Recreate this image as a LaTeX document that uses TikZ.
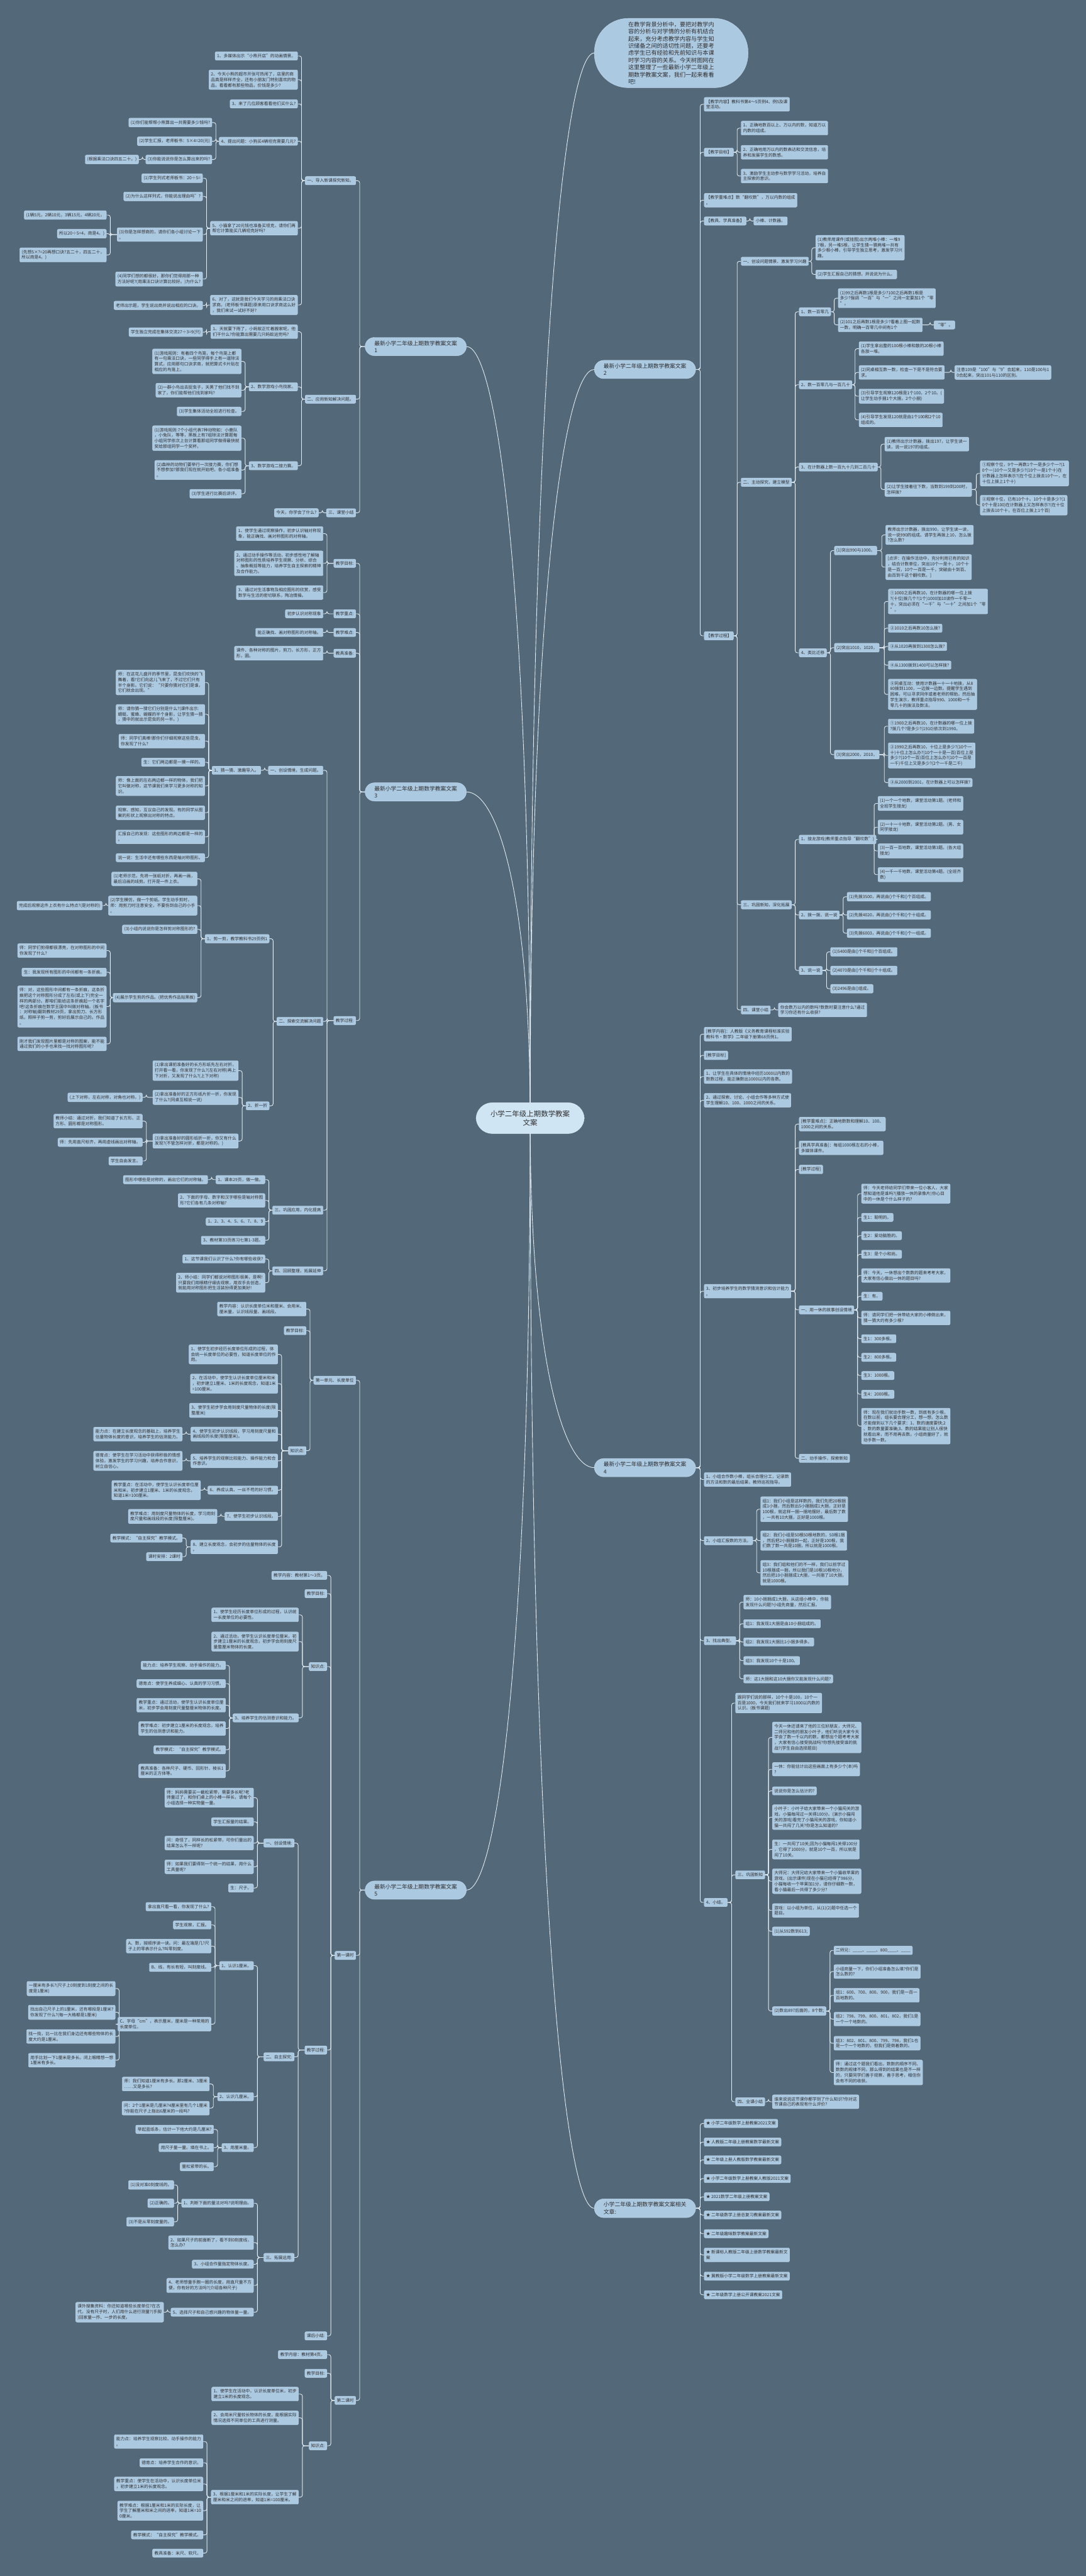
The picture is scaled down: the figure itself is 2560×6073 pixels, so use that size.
\documentclass[tikz,border=0pt]{standalone}
\usepackage{fontspec}
\setmainfont{Noto Sans CJK SC}
\usetikzlibrary{calc}
\definecolor{bgc}{HTML}{53697A}
\definecolor{ndf}{HTML}{ACC9E2}
\definecolor{ndb}{HTML}{C4DBEE}
\definecolor{rootf}{HTML}{CFE5F4}
\definecolor{rootb}{HTML}{E2F0FA}
\definecolor{txt}{HTML}{2E2E2E}
\definecolor{lnc}{HTML}{E4EDF3}
\pgfdeclarelayer{back}
\pgfdeclarelayer{lines}
\pgfsetlayers{back,lines,main}
\tikzset{
 nd/.style={draw=ndb, fill=ndf, rounded corners=3pt, line width=0.6pt, inner xsep=4.5pt, inner ysep=5.2pt, align=left, text=txt, font=\fontsize{10}{13}\selectfont},
 ln/.style={nd, anchor=east},
 rn/.style={nd, anchor=west},
 big/.style={draw=ndb, fill=ndf, rounded corners=22pt, line width=0.6pt, inner xsep=22pt, inner ysep=7.5pt, align=left, text=txt, font=\fontsize{13}{17}\selectfont},
 intro/.style={big, rounded corners=80pt, inner xsep=80pt, inner ysep=8pt, font=\fontsize{13.5}{16.9}\selectfont},
 rootn/.style={draw=rootb, fill=rootf, rounded corners=38pt, line width=0.6pt, inner xsep=34pt, inner ysep=18pt, align=center, text=txt, font=\fontsize{17}{21}\selectfont},
 conn/.style={draw=lnc, line width=1.3pt, rounded corners=5pt},
 curv/.style={draw=lnc, line width=1.3pt},
}
\newcommand\linkR[2]{\foreach \kid in {#2}{\draw[conn] (#1.east) -| ([xshift=-9pt]\kid.west) -- (\kid.west);}}
\newcommand\linkL[2]{\foreach \kid in {#2}{\draw[conn] (#1.west) -| ([xshift=9pt]\kid.east) -- (\kid.east);}}
\begin{document}
\begin{tikzpicture}[x=1pt,y=-1pt]
\begin{pgfonlayer}{back}
\fill[bgc] (0,0) rectangle (2560,6073);
\end{pgfonlayer}
\useasboundingbox (0,0) rectangle (2560,6073);

% root and level 1
\node[rootn] (root) at (1250,2636) {小学二年级上期数学教案\\文案};
\node[big, anchor=east] (L1) at (1100,817) {最新小学二年级上期数学教案文案\\1};
\node[big, anchor=east] (L3) at (1100,1867) {最新小学二年级上期数学教案文案\\3};
\node[big, anchor=east] (L5) at (1100,4456) {最新小学二年级上期数学教案文案\\5};
\node[intro, anchor=west] (IN) at (1401,125) {在教学背景分析中，要把对教学内\\容的分析与对学情的分析有机结合\\起来，充分考虑教学内容与学生知\\识储备之间的适切性问题，还要考\\虑学生已有经验和先前知识与本课\\时学习内容的关系。今天树图网在\\这里整理了一些最新小学二年级上\\期数学教案文案，我们一起来看看\\吧!};
\node[big, anchor=west] (R2) at (1401,871) {最新小学二年级上期数学教案文案\\2};
\node[big, anchor=west] (R4) at (1401,3460) {最新小学二年级上期数学教案文案\\4};
\node[big, anchor=west] (R6) at (1401,5206) {小学二年级上期数学教案文案相关\\文章:};

% ===== L1 =====
\node[ln] (a1) at (839,426) {一、导入新课探究新知。};
\node[ln] (a2) at (839,941) {二、应用新知解决问题。};
\node[ln] (a3) at (839,1209) {三、课堂小结};
\node[ln] (a11) at (702,132) {1、多媒体出示“小熊开店”的动画情景。};
\node[ln] (a12) at (702,188) {2、今天小熊的超市开张可热闹了，店里的商\\品真是样样齐全，还有小朋友门特别喜欢的物\\品，看看都有那些物品，价钱是多少?};
\node[ln] (a13) at (702,245) {3、来了几位顾客看看他们买什么?};
\node[ln] (a14) at (702,333) {4、提出问题：小狗买4辆坦克需要几元?};
\node[ln] (a15) at (702,538) {5、小猫拿了20元钱也准备买坦克，请你们再\\帮它计算能买几辆坦克好吗?};
\node[ln] (a16) at (702,719) {6、对了，这就是我们今天学习的用乘法口诀\\求商。(老师板书课题)原来用口诀求商这么好\\，我们来试一试好不好?};
\node[ln] (a141) at (500,289) {(1)你们能帮帮小熊算出一共需要多少钱吗?};
\node[ln] (a142) at (500,333) {(2)学生汇报，老师板书：5×4=20(元)};
\node[ln] (a143) at (500,376) {(3)你能说说你是怎么算出来的吗?};
\node[ln] (a1431) at (327,376) {(根据乘法口诀四五二十。)};
\node[ln] (a151) at (478,420) {(1)学生列式老师板书：20÷5=};
\node[ln] (a152) at (478,463) {(2)为什么这样列式，你能说出理由吗”?};
\node[ln] (a153) at (478,553) {(3)你是怎样想商的，请你们各小组讨论一下\\。};
\node[ln] (a154) at (478,658) {(4)同学们想的都很好，那你们觉得用那一种\\方法好呢?(用乘法口诀计算比较好。)为什么?};
\node[ln] (a1531) at (251,507) {(1辆5元，2辆10元，3辆15元，4辆20元，};
\node[ln] (a1532) at (251,551) {所以20÷5=4，商是4。)};
\node[ln] (a1533) at (251,601) {(先想5×?=20再想口诀?五二十，四五二十，\\所以商是4。)};
\node[ln] (a161) at (478,720) {老师出示题，学生说出商并说出相应的口诀。};
\node[ln] (a21) at (702,782) {1、天就要下雨了，小蚂蚁正忙着搬家呢，他\\们干什么?你能算出需要几只蚂蚁运完吗?};
\node[ln] (a22) at (702,912) {2、数学游戏小鸟找家。};
\node[ln] (a23) at (702,1098) {3、数学游戏二接力赛。};
\node[ln] (a211) at (478,783) {学生独立完成在集体交流27÷3=9(只)};
\node[ln] (a221) at (569,852) {(1)游戏规则：有着四个鸟笼，每个鸟笼上都\\有一句乘法口诀，一些同学得手上有一道除法\\算式，应用那句口诀求商，就把算式卡片贴在\\相应的鸟笼上。};
\node[ln] (a222) at (569,920) {(2)一群小鸟出去捉虫子，天黑了他们找不到\\家了，你们能帮他们找到家吗?};
\node[ln] (a223) at (569,970) {(3)学生集体活动全班进行检查。};
\node[ln] (a231) at (569,1033) {(1)游戏规则:7个小组代表7种动物如：小鹿队\\，小兔队，等等，黑板上有7组除法计算题每\\小组同学依次上台计算看那组同学做得最快就\\奖给那组同学一个奖杯。};
\node[ln] (a232) at (569,1108) {(2)森林的动物们要举行一次接力赛，你们想\\不想参加?那我们现在就开始吧，各小组准备\\。};
\node[ln] (a233) at (569,1164) {(3)学生进行比赛后讲评。};
\node[ln] (a31) at (751,1209) {今天，你学会了什么?};

% ===== L3 =====
\node[ln] (b1) at (839,1328) {教学目标:};
\node[ln] (b2) at (839,1447) {教学重点:};
\node[ln] (b3) at (839,1491) {教学难点:};
\node[ln] (b4) at (839,1540) {教具准备:};
\node[ln] (b5) at (839,2406) {教学过程:};
\node[ln] (b11) at (762,1258) {1、使学生通过观察操作，初步认识轴对称现\\象，能正确找、画对称图形的对称轴。};
\node[ln] (b12) at (762,1328) {2、通过动手操作等活动，初步感性地了解轴\\对称图形的性质培养学生观察、分析、综合\\、抽象概括等能力，培养学生自主探索的精神\\及合作能力。};
\node[ln] (b13) at (762,1397) {3、通过对生活事物及相应图形的欣赏，感受\\数学与生活的密切联系，陶冶情操。};
\node[ln] (b21) at (762,1447) {初步认识对称现象};
\node[ln] (b31) at (762,1491) {能正确找、画对称图形的对称轴。};
\node[ln] (b41) at (762,1540) {课件、各种对称的图片，剪刀，长方形，正方\\形，圆。};
\node[ln] (b51) at (762,1816) {一、创设情境，生成问题。};
\node[ln] (b52) at (762,2408) {二、探索交流解决问题};
\node[ln] (b53) at (762,2853) {三、巩固应用，内化提高};
\node[ln] (b54) at (762,2996) {四、回顾整理，拓展延伸};
\node[ln] (b511) at (615,1816) {1、猜一猜、激趣导入。};
\node[ln] (b5111) at (483,1609) {师：在这花儿盛开的季节里，昆虫们欢快的飞\\舞着，看!它们向这儿飞来了，不过它们只有\\半个身影。它们说：“只要你猜对它们是谁，\\它们就会出现。”};
\node[ln] (b5112) at (483,1684) {师：请你猜一猜它们分别是什么?(课件出示:\\蜻蜓、蜜蜂、蝴蝶的半个身影，让学生猜一猜\\，猜中的就出示昆虫的另一半。)};
\node[ln] (b5113) at (483,1747) {师：同学们真棒!那你们仔细观察这些昆虫，\\你发现了什么?};
\node[ln] (b5114) at (483,1797) {生：它们两边都是一摸一样的。};
\node[ln] (b5115) at (483,1853) {师：像上面的左右两边都一样的物体，我们把\\它叫做对称，这节课我们来学习更多对称的知\\识。};
\node[ln] (b5116) at (483,1916) {观察、感知，互议自己的发现。有的同学从图\\案的形状上观察出对称的特点。};
\node[ln] (b5117) at (483,1973) {汇报自己的发现：这些图形的两边都是一样的\\。};
\node[ln] (b5118) at (483,2022) {说一说：生活中还有哪些东西是轴对称图形。};
\node[ln] (b521) at (635,2213) {1、剪一剪，教学教科书29页例1};
\node[ln] (b522) at (635,2607) {2、折一折};
\node[ln] (b5211) at (465,2072) {(1)老师示范，先将一张纸对折，再画一画，\\最后沿画的线剪。打开是一件上衣。};
\node[ln] (b5212) at (465,2135) {(2)学生模仿，做一个剪纸。学生动手剪时，\\师：用剪刀时注意安全，不要伤到自己的小手\\。};
\node[ln] (b5213) at (465,2191) {(3)小组内说说你是怎样剪对称图形的?};
\node[ln] (b5214) at (465,2352) {(4)展示学生剪的作品。(把优秀作品贴黑板)};
\node[ln] (b52121) at (241,2135) {完成后观察这件上衣有什么特点?(是对称的)};
\node[ln] (b52141) at (251,2241) {师：同学们剪得都很漂亮，在对称图形的中间\\你发现了什么?};
\node[ln] (b52142) at (251,2292) {生：我发现所有图形的中间都有一条折痕。};
\node[ln] (b52143) at (251,2373) {师：对，这些图形中间都有一条折痕，这条折\\痕把这个对称图形分成了左右(或上下)完全一\\样的两部分。那咱们能给这条折痕起一个名字\\吧!这条折痕在数学王国中叫做对称轴。(板书\\：对称轴)翻到教材29页，拿出剪刀、长方形\\纸，照样子剪一剪，剪好后展示自己的。作品\\。};
\node[ln] (b52144) at (251,2461) {刚才我们发现图片里都是对称的图案，能不能\\通过我们的小手也来找一找对称图形呢?};
\node[ln] (b5221) at (562,2524) {(1)拿出课前准备好的长方形纸先左右对折，\\打开看一看，你发现了什么?(左右对称)再上\\下对折，又发现了什么?(上下对称)};
\node[ln] (b5222) at (562,2587) {(2)拿出准备好的正方形纸片折一折，你发现\\了什么?(同桌互相说一说)};
\node[ln] (b5223) at (562,2690) {(3)拿出准备好的圆形纸折一折，你又有什么\\发现?(不管怎样对折，都是对称的。)};
\node[ln] (b52221) at (336,2587) {(上下对称，左右对称，对角也对称。)};
\node[ln] (b52231) at (336,2643) {教师小结：通过对折，我们知道了长方形、正\\方形、圆形都是对称图形。};
\node[ln] (b52232) at (336,2693) {师：先用直尺标齐，再用虚线画出对称轴。};
\node[ln] (b52233) at (336,2737) {学生自由发言。};
\node[ln] (b531) at (625,2781) {1、课本29页，做一做。};
\node[ln] (b532) at (625,2830) {2、下面的字母、数字和汉字哪些是轴对称图\\形?它们各有几条对称轴?};
\node[ln] (b533) at (625,2880) {1、2、3、4、5、6、7、8、9};
\node[ln] (b534) at (625,2924) {3、教材第33页练习七第1-3题。};
\node[ln] (b5311) at (490,2781) {图形中哪些是对称的，画出它们的对称轴。};
\node[ln] (b541) at (625,2968) {1、这节课我们认识了什么?你有哪些收获?};
\node[ln] (b542) at (625,3024) {2、师小结：同学们都说对称图形很美，是啊!\\只要我们用眼睛仔细去观察，用双手去创造，\\就能用对称图形把生活装扮得更加美好!};

% ===== L5 =====
\node[ln] (c1) at (839,3254) {第一单元、长度单位};
\node[ln] (c2) at (839,4610) {第一课时};
\node[ln] (c3) at (839,5659) {第二课时};
\node[ln] (c11) at (722,3086) {教学内容：认识长度单位米和厘米、会用米、\\厘米量，认识线段量、画线段。};
\node[ln] (c12) at (722,3137) {教学目标:};
\node[ln] (c13) at (722,3420) {知识点:};
\node[ln] (c131) at (655,3193) {1、使学生初步经历长度单位形成的过程，体\\会统一长度单位的必要性，知道长度单位的作\\用。};
\node[ln] (c132) at (655,3262) {2、在活动中，使学生认识长度单位厘米和米\\，初步建立1厘米、1米的长度观念，知道1米\\=100厘米。};
\node[ln] (c133) at (655,3325) {3、使学生初步学会用刻度尺量物体的长度(限\\整厘米)};
\node[ln] (c134) at (655,3381) {4、使学生初步认识线段，学习用刻度尺量和\\画线段的长度(限整厘米)。};
\node[ln] (c135) at (655,3444) {5、培养学生的观察比较能力、操作能力和合\\作意识。};
\node[ln] (c136) at (655,3513) {6、养成认真、一丝不苟的好习惯。};
\node[ln] (c137) at (655,3575) {7、使学生初步认识线段。};
\node[ln] (c138) at (655,3647) {8、建立长度观念，会初步的估量物体的长度\\。};
\node[ln] (c1341) at (430,3381) {能力点：在建立长度观念的基础上，培养学生\\估量物体长度的意识，培养学生的估测能力。};
\node[ln] (c1351) at (430,3444) {德育点：使学生在学习活动中获得积极的情感\\体验，激发学生的学习兴趣，培养合作意识，\\树立自信心。};
\node[ln] (c1361) at (473,3513) {教学重点：在活动中，使学生认识长度单位厘\\米和米，初步建立1厘米、1米的长度观念，\\知道1米=100厘米。};
\node[ln] (c1371) at (512,3575) {教学难点：用刻度尺量物体的长度，学习用刻\\度尺量和画线段的长度(限整厘米)。};
\node[ln] (c1381) at (430,3626) {教学模式：“自主探究”教学模式。};
\node[ln] (c1382) at (430,3670) {课时安排：2课时};
\node[ln] (c21) at (771,3714) {教学内容：教材第1～3页。};
\node[ln] (c22) at (771,3757) {教学目标:};
\node[ln] (c23) at (771,3929) {知识点:};
\node[ln] (c24) at (771,4833) {教学过程:};
\node[ln] (c25) at (771,5507) {课后小结:};
\node[ln] (c231) at (704,3807) {1、使学生经历长度单位形成的过程，认识统\\一长度单位的必要性。};
\node[ln] (c232) at (704,3870) {2、通过活动，使学生认识长度单位厘米，初\\步建立1厘米的长度观念，初步学会用刻度尺\\量整厘米物体的长度。};
\node[ln] (c233) at (704,4050) {3、培养学生的估测意识和能力。};
\node[ln] (c2331) at (532,3926) {能力点：培养学生观察、动手操作的能力。};
\node[ln] (c2332) at (532,3969) {德育点：使学生养成细心、认真的学习习惯。};
\node[ln] (c2333) at (532,4020) {教学重点：通过活动，使学生认识长度单位厘\\米，初步学会用刻度尺量整厘米物体的长度。};
\node[ln] (c2334) at (532,4075) {教学难点：初步建立1厘米的长度观念，培养\\学生的估测意识和能力。};
\node[ln] (c2335) at (532,4125) {教学模式：“自主探究”教学模式。};
\node[ln] (c2336) at (532,4175) {教具准备：各种尺子、硬币、回形针、棱长1\\厘米的正方体等。};
\node[ln] (c241) at (694,4345) {一、创设情境:};
\node[ln] (c242) at (694,4849) {二、自主探究:};
\node[ln] (c243) at (694,5322) {三、拓展运用:};
\node[ln] (c2411) at (598,4238) {师：妈妈需要买一截松紧带，需要多长呢?老\\师量过了，和你们桌上的小棒一样长，请每个\\小组选择一种实物量一量。};
\node[ln] (c2412) at (598,4295) {学生汇报量的结果。};
\node[ln] (c2413) at (598,4345) {问：奇怪了，同样长的松紧带，可你们量出的\\结果怎么不一样呢?};
\node[ln] (c2414) at (598,4401) {师：如果我们要得到一个统一的结果，用什么\\工具量呢?};
\node[ln] (c2415) at (598,4451) {生：尺子。};
\node[ln] (c2421) at (598,4634) {1、认识1厘米。};
\node[ln] (c2422) at (598,4943) {2、认识几厘米。};
\node[ln] (c2423) at (598,5063) {3、用厘米量。};
\node[ln] (c24211) at (498,4495) {拿出直尺看一看，你发现了什么?};
\node[ln] (c24212) at (498,4538) {学生观察，汇报。};
\node[ln] (c24213) at (498,4588) {A、数，按顺序读一读。问：最左端是几?尺\\子上的零表示什么?叫零刻度。};
\node[ln] (c24214) at (498,4638) {B、线，有长有短，叫刻度线。};
\node[ln] (c24215) at (498,4772) {C、字母“cm”，表示厘米，厘米是一种常用的\\长度单位。};
\node[ln] (c242151) at (272,4688) {一厘米有多长?(尺子上0刻度到1刻度之间的长\\度是1厘米)};
\node[ln] (c242152) at (272,4744) {找出自己尺子上的1厘米，还有哪段是1厘米?\\你发现了什么?(每一大格都是1厘米)};
\node[ln] (c242153) at (272,4801) {找一找，比一比在我们身边还有哪些物体的长\\度大约是1厘米。};
\node[ln] (c242154) at (272,4857) {用手比划一下1厘米是多长。闭上眼睛想一想\\1厘米有多长。};
\node[ln] (c24221) at (494,4913) {师：我们知道1厘米有多长，那2厘米、3厘米\\……又是多长?};
\node[ln] (c24222) at (494,4970) {问：2个1厘米是几厘米?4厘米里有几个1厘米\\?你能在尺子上指出6厘米的一段吗?};
\node[ln] (c24231) at (504,5020) {举起蓝纸条，估计一下他大约是几厘米?};
\node[ln] (c24232) at (504,5063) {用尺子量一量。填在书上。};
\node[ln] (c24233) at (504,5108) {量松紧带的长。};
\node[ln] (c2431) at (598,5194) {1、判断下面的量法对吗?说明理由。};
\node[ln] (c2432) at (598,5287) {2、如果尺子的前面断了，看不到0刻度线，\\怎么办?};
\node[ln] (c2433) at (598,5338) {3、小组合作量指定物体长度。};
\node[ln] (c2434) at (598,5388) {4、老师想量手腕一圈的长度，用直尺量不方\\便，你有好的方法吗?(介绍各种尺子)};
\node[ln] (c2435) at (598,5451) {5、选择尺子和自己感兴趣的物体量一量。};
\node[ln] (c24311) at (410,5151) {(1)没对准0刻度线的。};
\node[ln] (c24312) at (410,5194) {(2)正确的。};
\node[ln] (c24313) at (410,5238) {(3)不是从零刻度量的。};
\node[ln] (c24351) at (386,5451) {课外搜集资料：你还知道哪些长度单位?在古\\代，没有尺子时，人们用什么进行测量?(手脚\\)回家量一拃、一步的长度。};
\node[ln] (c31) at (771,5551) {教学内容：教材第4页。};
\node[ln] (c32) at (771,5595) {教学目标:};
\node[ln] (c33) at (771,5766) {知识点:};
\node[ln] (c331) at (704,5644) {1、使学生在活动中，认识长度单位米，初步\\建立1米的长度观念。};
\node[ln] (c332) at (704,5700) {2、会用米尺量较长物体的长度，能根据实际\\情况选择不同单位的工具进行测量。};
\node[ln] (c333) at (704,5887) {3、根据1厘米和1米的实际长度，让学生了解\\厘米和米之间的进率，知道1米=100厘米。};
\node[ln] (c3331) at (479,5756) {能力点：培养学生观察比较、动手操作的能力\\。};
\node[ln] (c3332) at (479,5806) {德育点：培养学生合作的意识。};
\node[ln] (c3333) at (479,5856) {教学重点：使学生在活动中，认识长度单位米\\，初步建立1米的长度观念。};
\node[ln] (c3334) at (479,5919) {教学难点：根据1厘米和1米的实际长度，让\\学生了解厘米和米之间的进率，知道1米=10\\0厘米。};
\node[ln] (c3335) at (479,5976) {教学模式：“自主探究”教学模式。};
\node[ln] (c3336) at (479,6019) {教具准备：米尺、软尺。};

% ===== R2 =====
\node[rn] (d1) at (1660,246) {【教学内容】教科书第4～5页例4、例5及课\\堂活动。};
\node[rn] (d2) at (1660,359) {【教学目标】};
\node[rn] (d3) at (1660,472) {【教学重难点】数“翻坎数”，万以内数的组成\\。};
\node[rn] (d4) at (1660,521) {【教具、学具准备】};
\node[rn] (d5) at (1660,1499) {【教学过程】};
\node[rn] (d21) at (1747,302) {1、正确地数百以上、万以内的数，知道万以\\内数的组成。};
\node[rn] (d22) at (1747,359) {2、正确地用万以内的数表达和交流信息，培\\养和发展学生的数感。};
\node[rn] (d23) at (1747,415) {3、激励学生主动参与数学学习活动，培养自\\主探索的意识。};
\node[rn] (d41) at (1777,521) {小棒、计数器。};
\node[rn] (d51) at (1747,616) {一、创设问题情景、激发学习兴趣};
\node[rn] (d52) at (1747,1137) {二、主动探究，建立模型};
\node[rn] (d53) at (1747,2133) {三、巩固新知，深化拓展};
\node[rn] (d54) at (1747,2381) {四、课堂小结};
\node[rn] (d511) at (1923,584) {(1)教师用课件(或挂图)出示两堆小棒：一堆9\\7根，另一堆5根，让学生猜一猜两堆一共有\\多少根小棒，引导学生独立思考，激发学习兴\\趣。};
\node[rn] (d512) at (1923,647) {(2)学生汇报自己的猜想，并说说为什么。};
\node[rn] (d521) at (1884,735) {1、数一百零几};
\node[rn] (d522) at (1884,907) {2、数一百零几与一百几十};
\node[rn] (d523) at (1884,1101) {3、在计数器上数一百九十几到二百几十};
\node[rn] (d524) at (1884,1539) {4、类比迁移};
\node[rn] (d5211) at (1976,703) {(1)99之后再数1根是多少?100之后再数1根是\\多少?强调“一百”与“一”之间一定要加1个“零\\”。};
\node[rn] (d5212) at (1976,766) {(2)101之后再数1根是多少?看着上图一起数\\一数，明确一百零几中间有1个};
\node[rn] (d52121) at (2202,766) {“零”。};
\node[rn] (d5221) at (2025,822) {(1)学生拿出整的100根小棒和散的20根小棒\\各放一堆。};
\node[rn] (d5222) at (2025,878) {(2)同桌相互数一数，检查一下是不是符合要\\求。};
\node[rn] (d5223) at (2025,934) {(3)引导学生观察120根是1个100，2个10。(\\让学生动手捆1个大捆，2个小捆)};
\node[rn] (d5224) at (2025,990) {(4)引导学生发现120就是由1个100和2个10\\组成的。};
\node[rn] (d52221) at (2251,878) {注意109是“100”与“9”合起来，110是100与1\\0合起来，突出101与110的区别。};
\node[rn] (d5231) at (2086,1047) {(1)教师出示计数器，拨出197，让学生读一\\读，说一说197的组成。};
\node[rn] (d5232) at (2086,1154) {(2)让学生接着往下数，当数到199到200时，\\怎样拨?};
\node[rn] (d52321) at (2311,1116) {①观察个位，9个一再数1个一是多少个一?(1\\0个一)10个一又是多少?(10个一是1个十)在\\计数器上怎样表示?(在个位上拨去10个一，在\\十位上拨上1个十)};
\node[rn] (d52322) at (2311,1191) {②观察十位，已有10个十。10个十是多少?(1\\0个十是100)在计数器上又怎样表示?(在十位\\上拨去10个十，在百位上拨上1个百)};
\node[rn] (d5241) at (1967,1298) {(1)突出990与1000。};
\node[rn] (d5242) at (1967,1527) {(2)突出1010，1020，};
\node[rn] (d5243) at (1967,1779) {(3)突出2000，2010，};
\node[rn] (d52411) at (2088,1261) {教师出示计数器，拨出990，让学生读一读，\\说一说990的组成。请学生再拨上10，怎么拨\\?怎么数?};
\node[rn] (d52412) at (2088,1337) {[点评：在操作活动中，充分利用已有的知识\\，结合计数单位，突出10个一是十，10个十\\是一百，10个一百是一千，突破由十到百、\\由百到千这个翻坎数。]};
\node[rn] (d52421) at (2094,1418) {①1000之后再数10，在计数器的哪一位上拨\\?(十位)拨几个?(1个)1000加10读作一千零一\\十，突出必须在“一千”与“一十”之间加1个“零\\”。};
\node[rn] (d52422) at (2094,1481) {②1010之后再数10怎么拨?};
\node[rn] (d52423) at (2094,1524) {③从1020再拨到1300怎么拨?};
\node[rn] (d52424) at (2094,1568) {④从1300拨到1400可以怎样拨?};
\node[rn] (d52425) at (2094,1637) {⑤同桌互动：使用计数器一十一十地拨，从8\\80拨到1100，一边拨一边数。提醒学生遇到\\困难，可以寻求同伴或者老师的帮助。然后抽\\学生演示，教师重点指导990、1000和一千\\零几十的拨法及数法。};
\node[rn] (d52431) at (2094,1712) {①1900之后再数10，在计数器的哪一位上拨\\?拨几个?是多少?(1910)依次到1990。};
\node[rn] (d52432) at (2094,1781) {②1990之后再数10，十位上是多少?(10个一\\十)十位上怎么办?(10个一十是一百)百位上是\\多少?(10个一百)百位上怎么办?(10个一百是\\一千)千位上又是多少?(2个一千是二千)};
\node[rn] (d52433) at (2094,1845) {③从2000到2001，在计数器上可以怎样拨?};
\node[rn] (d531) at (1884,1979) {1、接龙游戏(教师重点指导“翻坎数”)};
\node[rn] (d532) at (1884,2157) {2、拨一拨、说一说};
\node[rn] (d533) at (1884,2288) {3、说一说};
\node[rn] (d5311) at (2070,1894) {(1)一个一个地数，课堂活动第1题。(老师和\\全班学生接龙)};
\node[rn] (d5312) at (2070,1950) {(2)一十一十地数，课堂活动第2题。(男、女\\同学接龙)};
\node[rn] (d5313) at (2070,2006) {(3)一百一百地数，课堂活动第3题。(各大组\\接龙)};
\node[rn] (d5314) at (2070,2062) {(4)一千一千地数，课堂活动第4题。(全班齐\\数)};
\node[rn] (d5321) at (1997,2114) {(1)先拨3500，再说由()个千和()个百组成。};
\node[rn] (d5322) at (1997,2157) {(2)先拨4020，再说由()个千和()个十组成。};
\node[rn] (d5323) at (1997,2200) {(3)先拨6003，再说由()个千和()个一组成。};
\node[rn] (d5331) at (1958,2244) {(1)5400是由()个千和()个百组成。};
\node[rn] (d5332) at (1958,2288) {(2)4070是由()个千和()个十组成。};
\node[rn] (d5333) at (1958,2331) {(3)2496是由()组成。};
\node[rn] (d541) at (1835,2381) {你会数万以内的数吗?数数时要注意什么?通过\\学习你还有什么收获?};

% ===== R4 =====
\node[rn] (e1) at (1660,2438) {[教学内容]：人教版《义务教育课程标准实验\\教科书·数学》二年级下册第68页例1。};
\node[rn] (e2) at (1660,2488) {[教学目标]};
\node[rn] (e3) at (1660,2538) {1、让学生在具体的情境中经历1000以内数的\\数数过程，能正确数出1000以内的各数。};
\node[rn] (e4) at (1660,2594) {2、通过探索、讨论、小组合作等多种方式使\\学生理解10、100、1000之间的关系。};
\node[rn] (e5) at (1660,3044) {3、初步培养学生的数学猜测意识和估计能力\\。};
\node[rn] (e6) at (1660,3488) {1、小组合作数小棒，组长合理分工，记录数\\的方法和数的最后结果，教师巡视指导。};
\node[rn] (e7) at (1660,3632) {2、小组汇报数的方法。};
\node[rn] (e8) at (1660,3868) {3、找出典型。};
\node[rn] (e9) at (1660,4485) {4、小结。};
\node[rn] (e51) at (1884,2650) {[教学重难点]：正确地数数和理解10、100、\\1000之间的关系。};
\node[rn] (e52) at (1884,2706) {[教具学具准备]：每组1000根左右的小棒，\\多媒体课件。};
\node[rn] (e53) at (1884,2757) {[教学过程]};
\node[rn] (e54) at (1884,3088) {一、用一休的故事创设情境};
\node[rn] (e55) at (1884,3438) {二、动手操作，探索新知};
\node[rn] (e541) at (2031,2814) {师：今天老师给同学们带来一位小客人，大家\\想知道他是谁吗?(播放一休的录像片)你心目\\中的一休是个什么样子的?};
\node[rn] (e542) at (2031,2870) {生1：聪明的。};
\node[rn] (e543) at (2031,2913) {生2：爱动脑筋的。};
\node[rn] (e544) at (2031,2957) {生3：是个小和尚。};
\node[rn] (e545) at (2031,3007) {师：今天，一休想出个数数的题来考考大家，\\大家有信心做出一休的题目吗?};
\node[rn] (e546) at (2031,3056) {生：有。};
\node[rn] (e547) at (2031,3107) {师：请同学们把一休带给大家的小棒倒出来，\\猜一猜大约有多少根?};
\node[rn] (e548) at (2031,3156) {生1：300多根。};
\node[rn] (e549) at (2031,3200) {生2：800多根。};
\node[rn] (e5410) at (2031,3243) {生3：1000根。};
\node[rn] (e5411) at (2031,3287) {生4：2000根。};
\node[rn] (e5412) at (2031,3362) {师：现在我们就动手数一数，到底有多少根，\\在数以前，组长要合理分工，想一想，怎么数\\才能做到以下几个要求：1、数的速度要快;2\\、数的数量要准确;3、数的结果能让别人很快\\就看出来，而不用再去数。小组商量好了，就\\动手数一数。};
\node[rn] (e71) at (1793,3558) {组1：我们小组是这样数的，我们先把20根捆\\成1小捆，然后数出5小捆捆成1大捆，正好是\\100根，就这样一捆一捆地摆好，最后数了数\\，一共有10大捆，正好是1000根。};
\node[rn] (e72) at (1793,3632) {组2：我们小组是50根50根地数的，50根1捆\\，然后把2小捆捆到一起，正好是100根，我\\们数了数一共是10捆，所以就是1000根。};
\node[rn] (e73) at (1793,3708) {组3：我们组和他们的不一样，我们以前学过\\10根捆成一捆，所以我们是10根10根地分，\\然后把10小捆捆成1大捆，一共捆了10大捆，\\就是1000根。};
\node[rn] (e81) at (1753,3777) {师：10小捆捆成1大捆，从这组小棒中，你能\\发现什么问题?小组先商量，然后汇报。};
\node[rn] (e82) at (1753,3828) {组1：我发现1大捆是由10小捆组成的。};
\node[rn] (e83) at (1753,3871) {组2：我发现1大捆比1小捆多得多。};
\node[rn] (e84) at (1753,3915) {组3：我发现10个十是100。};
\node[rn] (e85) at (1753,3958) {师：这1大捆和这10大捆你又能发现什么问题?};
\node[rn] (e91) at (1734,4015) {跟同学们说的那样，10个十是100，10个一\\百是1000，今天我们就来学习1000以内数的\\认识。(板书课题)};
\node[rn] (e92) at (1734,4420) {三、巩固新知};
\node[rn] (e93) at (1734,4955) {四、全课小结};
\node[rn] (e921) at (1821,4096) {今天一休还请来了他的三位好朋友，大师兄、\\二师兄和他的朋友小叶子，他们听说大家今天\\学会了数一千以内的数，都想出个题考考大家\\，大家有信心接受挑战吗?你想先接受谁的挑\\战?(学生自由选择题目)};
\node[rn] (e922) at (1821,4171) {一休：你能估计出这些画面上有多少个(本)吗\\?};
\node[rn] (e923) at (1821,4222) {说说你是怎么估计的?};
\node[rn] (e924) at (1821,4284) {小叶子：小叶子给大家带来一个小猫闯关的游\\戏，小猫每闯过一关得100分。(演示小猫闯\\关的游戏)看完了小猫闯关的游戏，你知道小\\猫一共闯了几关?你是怎么知道的?};
\node[rn] (e925) at (1821,4360) {生：一共闯了10关;因为小猫每闯1关得100分\\，它得了1000分，就是10个一百，所以就是\\闯了10关。};
\node[rn] (e926) at (1821,4435) {大师兄：大师兄给大家带来一个小猫收苹果的\\游戏，(出示课件)现在小猫已经得了986分，\\小猫每收一个苹果加1分，请你仔细数一数，\\看小猫最后一共得了多少分?};
\node[rn] (e927) at (1821,4504) {游戏：以小组为单位，从(1)(2)题中任选一个\\题目。};
\node[rn] (e928) at (1821,4553) {(1)从592数到613;};
\node[rn] (e929) at (1821,4741) {(2)数出897后面的，8个数;};
\node[rn] (e9291) at (1966,4598) {二师兄：\_\_\_\_、\_\_\_\_、800\_\_\_\_、\_\_\_\_};
\node[rn] (e9292) at (1966,4648) {小组商量一下，你们小组准备怎么填?你们是\\怎么数的?};
\node[rn] (e9293) at (1966,4704) {组1：600、700、800、900，我们是一百一\\百地数的。};
\node[rn] (e9294) at (1966,4760) {组2：798、799、800、801、802，我们1是\\一个一个地数的。};
\node[rn] (e9295) at (1966,4817) {组3：802、801、800、799、798，我们1也\\是一个一个地数的，但我们是倒着数的。};
\node[rn] (e9296) at (1966,4886) {师：通过这个题我们看出，数数的顺序不同、\\数数的规律不同，那么得到的结果也是不一样\\的，只要同学们善于观察，善于思考，相信你\\会有不同的收获。};
\node[rn] (e931) at (1821,4955) {谁来说说这节课你都学到了什么知识?你对这\\节课自己的表现有什么评价?};

% ===== R6 =====
\node[rn] (f1) at (1660,5006) {★ 小学二年级数学上册教案2021文案};
\node[rn] (f2) at (1660,5050) {★ 人教版二年级上册教案数学最新文案};
\node[rn] (f3) at (1660,5092) {★ 二年级上册人教版数学教案最新文案};
\node[rn] (f4) at (1660,5136) {★ 小学二年级数学上册教案人教版2021文案};
\node[rn] (f5) at (1660,5179) {★ 2021数学二年级上册教案文案};
\node[rn] (f6) at (1660,5222) {★ 二年级数学上册总复习教案最新文案};
\node[rn] (f7) at (1660,5266) {★ 二年级趣味数学教案最新文案};
\node[rn] (f8) at (1660,5316) {★ 新课标人教版二年级上册数学教案最新文\\案};
\node[rn] (f9) at (1660,5366) {★ 冀教版小学二年级数学上册教案最新文案};
\node[rn] (f10) at (1660,5410) {★ 二年级数学上册公开课教案2021文案};

\begin{pgfonlayer}{lines}
% root curves
\draw[curv] (root.center) .. controls (1250,1363) and (1170,817) .. (L1.east);
\draw[curv] (root.center) .. controls (1250,2098) and (1170,1867) .. (L3.east);
\draw[curv] (root.center) .. controls (1250,3910) and (1170,4456) .. (L5.east);
\draw[curv] (root.center) .. controls (1250,878) and (1331,125) .. (IN.west);
\draw[curv] (root.center) .. controls (1250,1400) and (1331,871) .. (R2.west);
\draw[curv] (root.center) .. controls (1250,3213) and (1331,3460) .. (R4.west);
\draw[curv] (root.center) .. controls (1250,4435) and (1331,5206) .. (R6.west);
% L1
\linkL{L1}{a1,a2,a3}
\linkL{a1}{a11,a12,a13,a14,a15,a16}
\linkL{a14}{a141,a142,a143}
\linkL{a143}{a1431}
\linkL{a15}{a151,a152,a153,a154}
\linkL{a153}{a1531,a1532,a1533}
\linkL{a16}{a161}
\linkL{a2}{a21,a22,a23}
\linkL{a21}{a211}
\linkL{a22}{a221,a222,a223}
\linkL{a23}{a231,a232,a233}
\linkL{a3}{a31}
% L3
\linkL{L3}{b1,b2,b3,b4,b5}
\linkL{b1}{b11,b12,b13}
\linkL{b2}{b21}
\linkL{b3}{b31}
\linkL{b4}{b41}
\linkL{b5}{b51,b52,b53,b54}
\linkL{b51}{b511}
\linkL{b511}{b5111,b5112,b5113,b5114,b5115,b5116,b5117,b5118}
\linkL{b52}{b521,b522}
\linkL{b521}{b5211,b5212,b5213,b5214}
\linkL{b5212}{b52121}
\linkL{b5214}{b52141,b52142,b52143,b52144}
\linkL{b522}{b5221,b5222,b5223}
\linkL{b5222}{b52221}
\linkL{b5223}{b52231,b52232,b52233}
\linkL{b53}{b531,b532,b533,b534}
\linkL{b531}{b5311}
\linkL{b54}{b541,b542}
% L5
\linkL{L5}{c1,c2,c3}
\linkL{c1}{c11,c12,c13}
\linkL{c13}{c131,c132,c133,c134,c135,c136,c137,c138}
\linkL{c134}{c1341}
\linkL{c135}{c1351}
\linkL{c136}{c1361}
\linkL{c137}{c1371}
\linkL{c138}{c1381,c1382}
\linkL{c2}{c21,c22,c23,c24,c25}
\linkL{c23}{c231,c232,c233}
\linkL{c233}{c2331,c2332,c2333,c2334,c2335,c2336}
\linkL{c24}{c241,c242,c243}
\linkL{c241}{c2411,c2412,c2413,c2414,c2415}
\linkL{c242}{c2421,c2422,c2423}
\linkL{c2421}{c24211,c24212,c24213,c24214,c24215}
\linkL{c24215}{c242151,c242152,c242153,c242154}
\linkL{c2422}{c24221,c24222}
\linkL{c2423}{c24231,c24232,c24233}
\linkL{c243}{c2431,c2432,c2433,c2434,c2435}
\linkL{c2431}{c24311,c24312,c24313}
\linkL{c2435}{c24351}
\linkL{c3}{c31,c32,c33}
\linkL{c33}{c331,c332,c333}
\linkL{c333}{c3331,c3332,c3333,c3334,c3335,c3336}
% R2
\linkR{R2}{d1,d2,d3,d4,d5}
\linkR{d2}{d21,d22,d23}
\linkR{d4}{d41}
\linkR{d5}{d51,d52,d53,d54}
\linkR{d51}{d511,d512}
\linkR{d52}{d521,d522,d523,d524}
\linkR{d521}{d5211,d5212}
\linkR{d5212}{d52121}
\linkR{d522}{d5221,d5222,d5223,d5224}
\linkR{d5222}{d52221}
\linkR{d523}{d5231,d5232}
\linkR{d5232}{d52321,d52322}
\linkR{d524}{d5241,d5242,d5243}
\linkR{d5241}{d52411,d52412}
\linkR{d5242}{d52421,d52422,d52423,d52424,d52425}
\linkR{d5243}{d52431,d52432,d52433}
\linkR{d53}{d531,d532,d533}
\linkR{d531}{d5311,d5312,d5313,d5314}
\linkR{d532}{d5321,d5322,d5323}
\linkR{d533}{d5331,d5332,d5333}
\linkR{d54}{d541}
% R4
\linkR{R4}{e1,e2,e3,e4,e5,e6,e7,e8,e9}
\linkR{e5}{e51,e52,e53,e54,e55}
\linkR{e54}{e541,e542,e543,e544,e545,e546,e547,e548,e549,e5410,e5411,e5412}
\linkR{e7}{e71,e72,e73}
\linkR{e8}{e81,e82,e83,e84,e85}
\linkR{e9}{e91,e92,e93}
\linkR{e92}{e921,e922,e923,e924,e925,e926,e927,e928,e929}
\linkR{e929}{e9291,e9292,e9293,e9294,e9295,e9296}
\linkR{e93}{e931}
% R6
\linkR{R6}{f1,f2,f3,f4,f5,f6,f7,f8,f9,f10}
\end{pgfonlayer}
\end{tikzpicture}
\end{document}
